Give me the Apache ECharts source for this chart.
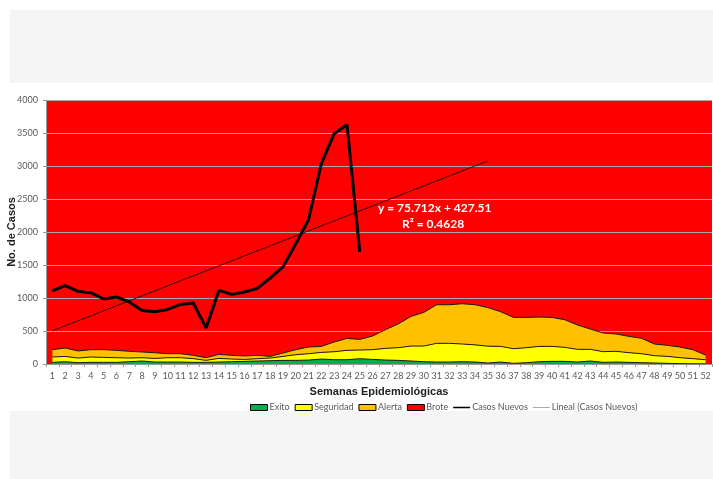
<!DOCTYPE html>
<html>
<head>
<meta charset="utf-8">
<script src="https://cdn.jsdelivr.net/npm/echarts@6/dist/echarts.min.js"></script>
<style>
    html, body { margin: 0; padding: 0; background: #fff; }
    #chart { width: 713px; height: 479px; }
</style>
</head>
<body>
<div id="chart"></div>
<script>
    // semanas epidemiologicas
    var semanas = ['1','2','3','4','5','6','7','8','9','10','11','12','13','14','15','16','17','18','19','20','21','22','23','24','25','26',
        '27','28','29','30','31','32','33','34','35','36','37','38','39','40','41','42','43','44','45','46','47','48','49','50','51','52']
    var yTicks = [0, 500, 1000, 1500, 2000, 2500, 3000, 3500, 4000]

    // canal endemico (valores por zona, apilados)
    var exito = [25, 35, 20, 25, 25, 25, 35, 45, 30, 30, 30, 25, 25, 30, 35, 40, 45, 50, 55, 55, 60, 75, 65, 65, 80, 70,
        60, 55, 45, 35, 30, 30, 35, 30, 15, 30, 10, 20, 35, 40, 40, 30, 45, 25, 30, 25, 20, 15, 10, 5, 3, 2]
    var seguridad = [81, 80, 70, 81, 75, 70, 55, 50, 55, 65, 65, 56, 30, 55, 40, 30, 35, 40, 60, 86, 96, 101, 121, 142, 132, 147,
        177, 192, 227, 237, 283, 283, 268, 260, 255, 237, 222, 227, 232, 227, 212, 192, 177, 162, 162, 147, 136, 111, 106, 91, 78, 63]
    var alerta = [111, 127, 107, 111, 117, 112, 102, 87, 85, 61, 61, 50, 40, 61, 56, 51, 51, 25, 51, 76, 101, 91, 147, 181, 161, 207,
        283, 359, 449, 510, 585, 585, 610, 608, 585, 525, 474, 459, 444, 439, 419, 368, 308, 283, 263, 247, 233, 177, 167, 161, 136, 71]

    // casos nuevos (semanas 1 a 25)
    var casosNuevos = [1110, 1186, 1100, 1080, 985, 1015, 940, 812, 792, 827, 903, 924, 545, 1115, 1055, 1090, 1145, 1300, 1470,
        1820, 2186, 3035, 3490, 3626, 1697]

    // tendencia lineal: [indice de semana, valor]
    var lineal = [[0, 503], [34, 3077]]

    var linealData = semanas.map(function () { return null })
    lineal.forEach(function (p) { linealData[p[0]] = p[1] })

    var fuente = 'Lato'
    var gris = '#595959'

    // iconos de leyenda tipo linea (barra horizontal centrada)
    var iconoGrueso = 'path://M0,0L0.01,0L0.01,0.01Z M0,2L20,2L20,4L0,4Z M0,6L0.01,6L0.01,6.01Z'
    var iconoFino = 'path://M0,0L0.01,0L0.01,0.01Z M0,2.6L20,2.6L20,3.4L0,3.4Z M0,6L0.01,6L0.01,6.01Z'

    var chart = echarts.init(document.getElementById('chart'))
    chart.setOption({
        animation: false,
        graphic: [
            { type: 'rect', shape: { x: 10, y: 10, width: 703, height: 73 }, style: { fill: '#f5f5f5' }, silent: true },
            { type: 'rect', shape: { x: 10, y: 411, width: 703, height: 68 }, style: { fill: '#f5f5f5' }, silent: true },
            {
                type: 'text', left: 378, top: 202, z: 100,
                style: { text: 'y = 75.712x + 427.51', fill: '#fff', font: 'bold 12px ' + fuente }
            },
            {
                type: 'text', left: 402, top: 218, z: 100,
                style: { text: 'R² = 0.4628', fill: '#fff', font: 'bold 12px ' + fuente }
            }
        ],
        grid: {
            left: 46,
            right: 1,
            top: 100,
            bottom: 115,
            outerBoundsMode: 'none',
            containLabel: false,
            show: true,
            backgroundColor: '#ff0000',
            borderWidth: 0
        },
        legend: {
            left: 245,
            top: 398,
            itemWidth: 17,
            itemHeight: 6,
            itemGap: 5,
            textStyle: { fontFamily: fuente, fontSize: 9, color: gris, padding: [0, 0, 0, -3] },
            data: [
                { name: 'Exito', icon: 'rect', itemStyle: { color: '#00b050', borderColor: '#000', borderWidth: 1 } },
                { name: 'Seguridad', icon: 'rect', itemStyle: { color: '#ffff00', borderColor: '#000', borderWidth: 1 } },
                { name: 'Alerta', icon: 'rect', itemStyle: { color: '#ffc000', borderColor: '#000', borderWidth: 1 } },
                { name: 'Brote', icon: 'rect', itemStyle: { color: '#ff0000', borderColor: '#000', borderWidth: 1 } },
                { name: 'Casos Nuevos', icon: iconoGrueso, itemStyle: { color: '#000', borderWidth: 0 } },
                { name: 'Lineal (Casos Nuevos)', icon: iconoFino, itemStyle: { color: '#555', borderWidth: 0 } }
            ]
        },
        xAxis: {
            type: 'category',
            data: semanas,
            boundaryGap: true,
            name: 'Semanas Epidemiológicas',
            nameLocation: 'middle',
            nameGap: 22,
            nameMoveOverlap: false,
            nameTextStyle: { fontFamily: 'Liberation Sans', fontWeight: 'bold', fontSize: 11, color: '#222' },
            axisLine: { lineStyle: { color: '#9a9a9a' } },
            axisTick: { show: true, length: 3, lineStyle: { color: '#9a9a9a' } },
            axisLabel: { fontFamily: fuente, fontSize: 9, color: gris, interval: 0, margin: 8 }
        },
        yAxis: {
            type: 'value',
            min: yTicks[0],
            max: yTicks[yTicks.length - 1],
            interval: 500,
            name: 'No. de Casos',
            nameLocation: 'middle',
            nameGap: 29,
            nameMoveOverlap: false,
            nameTextStyle: { fontFamily: 'Liberation Sans', fontWeight: 'bold', fontSize: 11, color: '#222' },
            axisLine: { show: true, lineStyle: { color: '#9a9a9a' } },
            axisTick: { show: true, length: 3, lineStyle: { color: '#9a9a9a' } },
            axisLabel: {
                fontFamily: fuente, fontSize: 9, color: gris, margin: 8,
                formatter: function (v) { return String(v) }
            },
            splitLine: { lineStyle: { color: '#a8a8a8', width: 1 } }
        },
        series: [
            {
                name: 'Brote',
                type: 'line',
                data: [],
                color: '#ff0000'
            },
            {
                name: 'Exito',
                type: 'line',
                stack: 'canal',
                data: exito,
                symbol: 'none',
                color: '#00b050',
                lineStyle: { color: '#1a1a1a', width: 1 },
                areaStyle: { color: '#00b050', opacity: 1 }
            },
            {
                name: 'Seguridad',
                type: 'line',
                stack: 'canal',
                data: seguridad,
                symbol: 'none',
                color: '#ffff00',
                lineStyle: { color: '#1a1a1a', width: 1 },
                areaStyle: { color: '#ffff00', opacity: 1 }
            },
            {
                name: 'Alerta',
                type: 'line',
                stack: 'canal',
                data: alerta,
                symbol: 'none',
                color: '#ffc000',
                lineStyle: { color: '#1a1a1a', width: 1 },
                areaStyle: { color: '#ffc000', opacity: 1 }
            },
            {
                name: 'Casos Nuevos',
                type: 'line',
                data: casosNuevos,
                symbol: 'none',
                color: '#000',
                lineStyle: { color: '#000', width: 3 },
                z: 5
            },
            {
                name: 'Lineal (Casos Nuevos)',
                type: 'line',
                data: linealData,
                connectNulls: true,
                symbol: 'none',
                color: '#000',
                lineStyle: { color: '#000', width: 0.8 },
                z: 4
            }
        ]
    })
</script>
</body>
</html>
